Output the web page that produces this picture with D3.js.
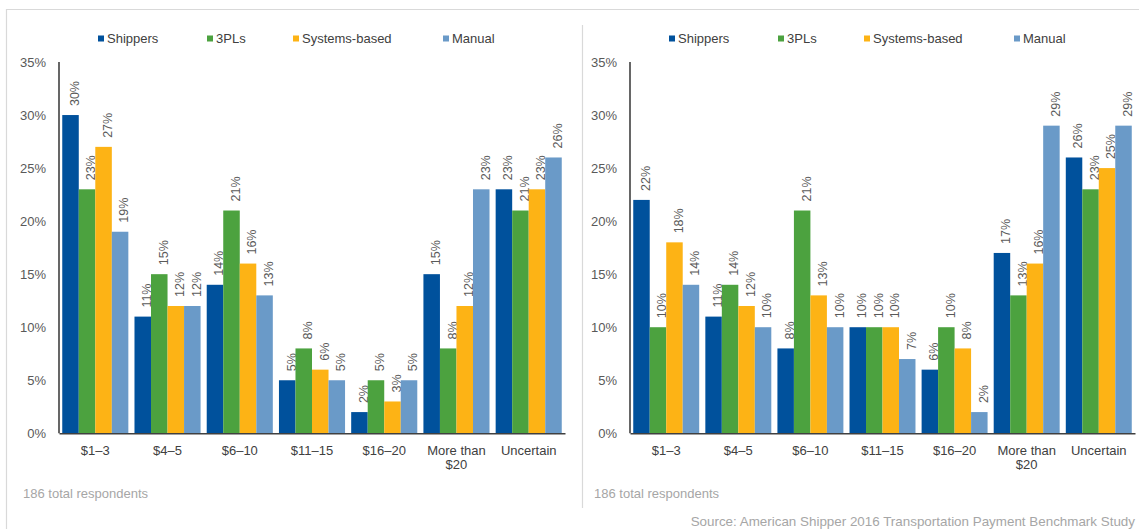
<!DOCTYPE html>
<html>
<head>
<meta charset="utf-8">
<script src="https://cdn.jsdelivr.net/npm/d3@7"></script>
<style>
  html, body { margin: 0; padding: 0; background: #fff; }
  svg { display: block; font-family: "Liberation Sans", Arial, sans-serif; }
</style>
</head>
<body>
<svg id="chart" width="1139" height="529"></svg>
<script>
// ---- data ----
const categories = ["$1–3", "$4–5", "$6–10", "$11–15", "$16–20", "More than $20", "Uncertain"];
const seriesNames = ["Shippers", "3PLs", "Systems-based", "Manual"];
const yTicks = [0, 5, 10, 15, 20, 25, 30, 35];

const leftShippers = [30, 11, 14, 5, 2, 15, 23];
const left3PLs     = [23, 15, 21, 8, 5, 8, 21];
const leftSystems  = [27, 12, 16, 6, 3, 12, 23];
const leftManual   = [19, 12, 13, 5, 5, 23, 26];

const rightShippers = [22, 11, 8, 10, 6, 17, 26];
const right3PLs     = [10, 14, 21, 10, 10, 13, 23];
const rightSystems  = [18, 12, 13, 10, 8, 16, 25];
const rightManual   = [14, 10, 10, 7, 2, 29, 29];

const footnote = "186 total respondents";
const sourceText = "Source: American Shipper 2016 Transportation Payment Benchmark Study";

// ---- styles ----
const colors = ["#00519c", "#4ca23f", "#fdb315", "#6a9ac8"];
const svg = d3.select("#chart");

// frame lines
svg.append("line").attr("x1", 6).attr("x2", 1139).attr("y1", 9.5).attr("y2", 9.5)
  .attr("stroke", "#d9d9d9").attr("stroke-width", 1.2);
svg.append("line").attr("x1", 6.5).attr("x2", 6.5).attr("y1", 9).attr("y2", 529)
  .attr("stroke", "#d9d9d9").attr("stroke-width", 1.2);
svg.append("line").attr("x1", 582.5).attr("x2", 582.5).attr("y1", 25).attr("y2", 508)
  .attr("stroke", "#d9d9d9").attr("stroke-width", 1.2);

function drawPanel(x0, x1, seriesData) {
  const g = svg.append("g");
  const y = d3.scaleLinear().domain([0, 35]).range([433.3, 62]);
  const x = d3.scaleBand().domain(categories).range([x0, x1]).paddingInner(0.085).paddingOuter(0.045);
  const xs = d3.scaleBand().domain(seriesNames).range([0, x.bandwidth()]).padding(0);

  // y tick labels
  const yAxis = d3.axisLeft(y).tickValues(yTicks).tickSize(0).tickPadding(13).tickFormat(d => d + "%");
  const ya = g.append("g").attr("transform", `translate(${x0},0)`).call(yAxis);
  ya.select(".domain").remove();
  ya.selectAll("text").attr("font-size", 13).attr("fill", "#595959")
    .attr("font-family", "Liberation Sans, Arial, sans-serif");

  // bars
  seriesNames.forEach((s, si) => {
    const vals = seriesData[si];
    g.selectAll(null).data(categories).enter().append("rect")
      .attr("x", (c) => x(c) + xs(s))
      .attr("width", xs.bandwidth())
      .attr("y", (c, i) => y(vals[i]))
      .attr("height", (c, i) => y(0) - y(vals[i]))
      .attr("fill", colors[si]);
    g.selectAll(null).data(categories).enter().append("text")
      .attr("transform", (c, i) => `translate(${x(c) + xs(s) + xs.bandwidth() / 2 + 4},${y(vals[i]) - 9}) rotate(-90)`)
      .attr("dy", "0.35em")
      .attr("font-size", 12.5)
      .attr("fill", "#595959")
      .text((c, i) => vals[i] + "%");
  });

  // y axis line
  g.append("line").attr("x1", x0).attr("x2", x0).attr("y1", y(35)).attr("y2", y(0))
    .attr("stroke", "#404040").attr("stroke-width", 1.6);
  // x axis
  const xAxis = d3.axisBottom(x).tickSize(0).tickPadding(12);
  const xa = g.append("g").attr("transform", `translate(0,${y(0)})`).call(xAxis);
  xa.select(".domain").attr("stroke", "#404040").attr("stroke-width", 1.6);
  xa.selectAll("text").attr("font-size", 13).attr("fill", "#404040")
    .attr("font-family", "Liberation Sans, Arial, sans-serif")
    .each(function (d) {
      const t = d3.select(this);
      if (d === "More than $20") {
        t.text(null);
        t.append("tspan").attr("x", 0).text("More than");
        t.append("tspan").attr("x", 0).attr("dy", "1.1em").text("$20");
      }
    });

  // legend
  const legendOffsets = [39, 148, 234, 384];
  seriesNames.forEach((s, si) => {
    const lx = x0 + legendOffsets[si];
    g.append("rect").attr("x", lx).attr("y", 35.5).attr("width", 6).attr("height", 6).attr("fill", colors[si]);
    g.append("text").attr("x", lx + 9).attr("y", 38.5).attr("dy", "0.35em")
      .attr("font-size", 13).attr("fill", "#404040").text(s);
  });

  // footnote
  g.append("text").attr("x", x0 - 36).attr("y", 493).attr("dy", "0.35em")
    .attr("font-size", 13).attr("fill", "#a6a6a6").text(footnote);
}

drawPanel(59, 565, [leftShippers, left3PLs, leftSystems, leftManual]);
drawPanel(630, 1135, [rightShippers, right3PLs, rightSystems, rightManual]);

svg.append("text").attr("x", 1135).attr("y", 521.5).attr("dy", "0.35em")
  .attr("text-anchor", "end").attr("font-size", 13.4).attr("fill", "#a6a6a6").text(sourceText);
</script>
</body>
</html>
